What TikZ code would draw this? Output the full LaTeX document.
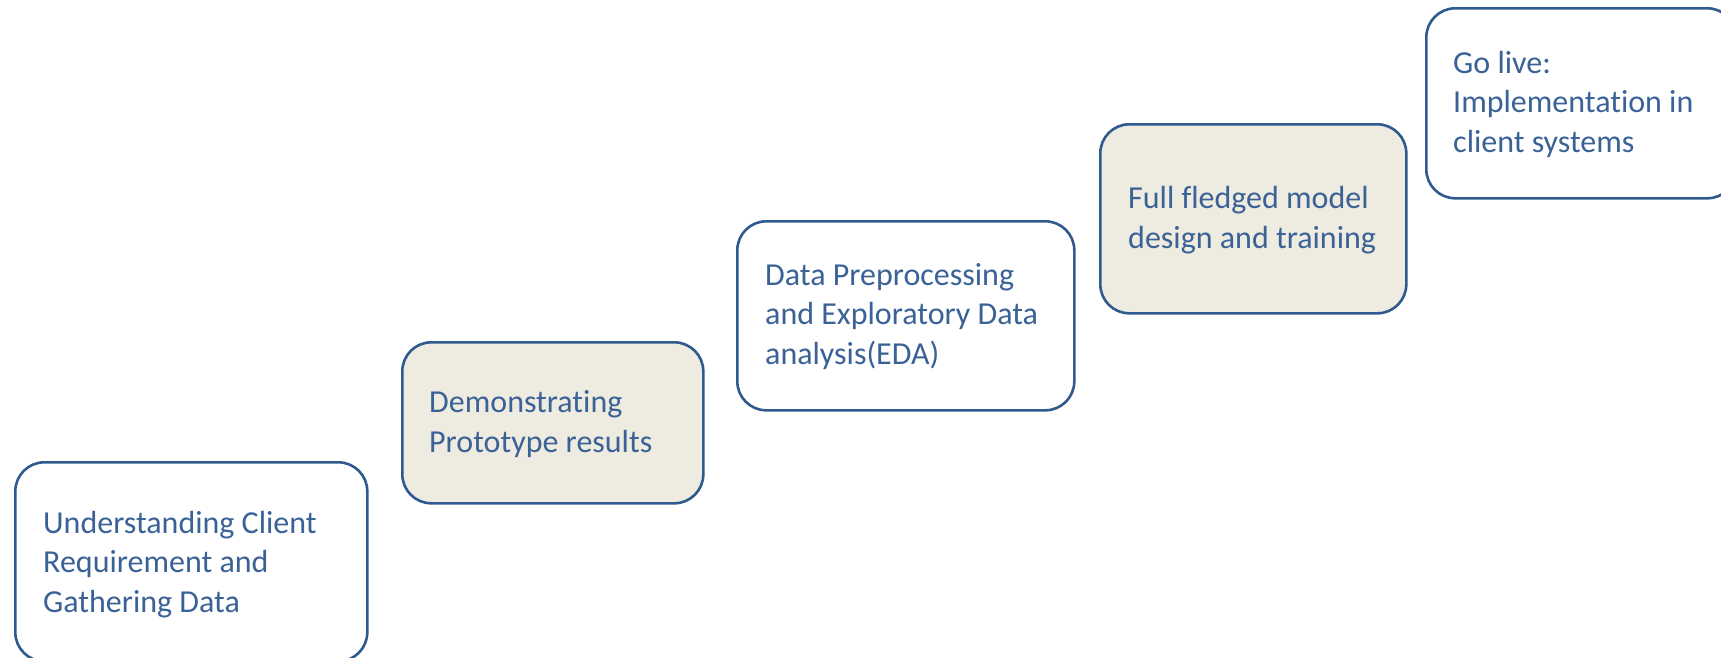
\documentclass[tikz,border=0pt]{standalone}
\usepackage{fontspec}
\setmainfont{Carlito}[Ligatures={NoCommon}]
\definecolor{edge}{HTML}{2F5A8E}
\definecolor{ink}{HTML}{3A6296}
\definecolor{sand}{HTML}{EEEBE1}
\tikzset{
  stage/.style={draw=edge, line width=2.6pt, rounded corners=29pt, inner sep=0pt, anchor=north west},
  plainbox/.style={stage, fill=white},
  shadedbox/.style={stage, fill=sand},
  caption/.style={text=ink, font=\fontsize{32}{39.5}\selectfont, align=left, anchor=base west, inner sep=0pt}
}
\begin{document}
\begin{tikzpicture}[x=1pt,y=-1pt]
\useasboundingbox (0,0) rectangle (1721,657);
\clip (0,0) rectangle (1721,657);
\node[plainbox, minimum width=352pt, minimum height=199pt] (s1) at (14,461) {};
\node[shadedbox, minimum width=301pt, minimum height=161pt] (s2) at (401,341) {};
\node[plainbox, minimum width=337pt, minimum height=189pt] (s3) at (736,220) {};
\node[shadedbox, minimum width=306pt, minimum height=189pt] (s4) at (1099,123) {};
\node[plainbox, minimum width=310pt, minimum height=190pt] (s5) at (1425,7) {};
% base anchor = baseline of the last line
\node[caption] (t1) at (43,612) {Understanding Client\\Requirement and\\Gathering Data};
\node[caption] (t2) at (429,452) {Demonstrating\\Prototype results};
\node[caption] (t3) at (765,364) {Data Preprocessing\\and Exploratory Data\\analysis(EDA)};
\node[caption] (t4) at (1128,248) {Full fledged model\\design and training};
\node[caption] (t5) at (1453,152) {Go live:\\Implementation in\\client systems};
\end{tikzpicture}
\end{document}
